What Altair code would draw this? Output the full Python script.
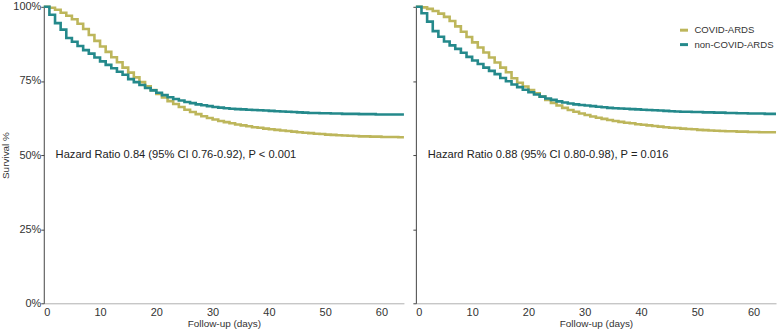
import altair as alt
import pandas as pd

# Kaplan-Meier survival (%) by follow-up day, 0..64
days = list(range(65))

groups = ["COVID-ARDS", "non-COVID-ARDS"]
colors = ["#bdb65b", "#24898b"]

left_covid = [100, 99.7, 99, 98, 97, 95.8, 94.3, 92.5, 90.5, 88.5, 86.6, 84.8, 83, 81.3,
              79.5, 77.8, 76.2, 74.6, 73.2, 71.9, 70.6, 69.4, 68.2, 67.2, 66.2, 65.3, 64.5,
              63.8, 63.1, 62.5, 62, 61.5, 61.1, 60.7, 60.3, 60, 59.7, 59.4, 59.2, 58.9, 58.7,
              58.5, 58.3, 58.1, 57.9, 57.7, 57.5, 57.4, 57.2, 57.1, 56.9, 56.8, 56.7, 56.6,
              56.5, 56.4, 56.3, 56.3, 56.2, 56.2, 56.1, 56.1, 56.1, 56.0, 56.0]
left_noncovid = [100, 97.3, 94.5, 92.3, 89.5, 88.2, 86.8, 85.4, 84.2, 82.9, 81.6, 80.4,
                 79.3, 78.1, 77.1, 75.6, 74.6, 73.6, 72.6, 71.8, 71.0, 70.2, 69.5, 68.9,
                 68.4, 67.9, 67.5, 67.1, 66.8, 66.5, 66.2, 66.0, 65.8, 65.6, 65.5, 65.4,
                 65.3, 65.2, 65.1, 65.0, 64.9, 64.8, 64.7, 64.6, 64.5, 64.4, 64.3, 64.2,
                 64.2, 64.1, 64.1, 64.0, 64.0, 63.9, 63.9, 63.9, 63.8, 63.8, 63.8, 63.7,
                 63.7, 63.7, 63.7, 63.7, 63.7]
right_covid = [100, 99.8, 99.3, 98.6, 97.7, 96.6, 95.2, 93.4, 91.6, 89.8, 88.0, 86.3,
               84.6, 82.9, 81.2, 79.5, 77.9, 75.9, 74.4, 73.1, 71.9, 70.8, 69.7, 68.6,
               67.6, 66.7, 65.9, 65.2, 64.6, 64.0, 63.5, 63.0, 62.6, 62.2, 61.8, 61.5,
               61.2, 60.9, 60.7, 60.4, 60.2, 60.0, 59.8, 59.6, 59.4, 59.2, 59.1, 58.9,
               58.8, 58.7, 58.5, 58.4, 58.3, 58.2, 58.1, 58.0, 58.0, 57.9, 57.9, 57.8,
               57.8, 57.7, 57.7, 57.7, 57.7]
right_noncovid = [100, 97.8, 95.0, 91.8, 89.9, 88.3, 87.0, 85.8, 84.5, 83.1, 81.9, 80.7,
                  79.5, 78.4, 77.3, 76.0, 74.9, 73.8, 72.9, 72.0, 71.2, 70.4, 69.7, 69.1,
                  68.6, 68.1, 67.7, 67.4, 67.1, 66.9, 66.7, 66.5, 66.3, 66.1, 65.9, 65.8,
                  65.7, 65.6, 65.5, 65.4, 65.3, 65.2, 65.1, 65.0, 64.9, 64.8, 64.7, 64.6,
                  64.6, 64.5, 64.5, 64.4, 64.4, 64.3, 64.3, 64.2, 64.2, 64.1, 64.1, 64.0,
                  64.0, 64.0, 63.9, 63.9, 63.9]

annotations = ["Hazard Ratio 0.84 (95% CI 0.76-0.92), P < 0.001",
               "Hazard Ratio 0.88 (95% CI 0.80-0.98), P = 0.016"]

y_ticks = [0, 25, 50, 75, 100]
x_ticks = [0, 10, 20, 30, 40, 50, 60]

FONT = "Liberation Sans"
TEXT = "#333333"


def curves(covid, noncovid):
    rows = []
    for g, vals in zip(groups, [covid, noncovid]):
        for d, v in zip(days, vals):
            rows.append({"day": d, "survival": v, "group": g})
    return pd.DataFrame(rows)


def panel(covid, noncovid, note, width, first, show_legend):
    df = curves(covid, noncovid)
    x = alt.X("day:Q",
              scale=alt.Scale(domain=[0, 64], nice=False),
              axis=alt.Axis(values=x_ticks, title="Follow-up (days)", ticks=False,
                            grid=False, domainColor="#b0b0b0", labelPadding=3,
                            labelFontSize=11, labelColor=TEXT, labelFont=FONT,
                            titleFont=FONT, titleFontSize=10, titleFontWeight="normal",
                            titleColor=TEXT, titlePadding=1))
    if first:
        yaxis = alt.Axis(values=y_ticks, labelExpr="datum.value + '%'", title="Survival %",
                         grid=False, tickSize=3, tickColor="#444", domainColor="#444",
                         labelPadding=0, labelFontSize=11, labelColor=TEXT, labelFont=FONT,
                         titleFont=FONT, titleFontSize=10, titleFontWeight="normal",
                         titleColor=TEXT, titlePadding=2)
    else:
        yaxis = alt.Axis(values=y_ticks, labels=False, title=None, grid=False, tickSize=3,
                         tickColor="#444", domainColor="#444")
    y = alt.Y("survival:Q", scale=alt.Scale(domain=[0, 100], nice=False), axis=yaxis)
    legend = (alt.Legend(title=None, orient="none", legendX=264, legendY=18,
                         symbolType="stroke", symbolSize=64, symbolStrokeWidth=3,
                         labelFont=FONT, labelFontSize=9.6, labelColor=TEXT,
                         rowPadding=1.5, labelOffset=5, padding=0)
              if show_legend else None)
    color = alt.Color("group:N", scale=alt.Scale(domain=groups, range=colors), legend=legend)
    lines = alt.Chart(df).mark_line(interpolate="step-after", strokeWidth=2.6).encode(
        x=x, y=y, color=color)
    label = alt.Chart(pd.DataFrame({"day": [2.1], "survival": [50], "text": [note]})).mark_text(
        align="left", baseline="middle", font=FONT, fontSize=11.2, color="#222222"
    ).encode(x="day:Q", y="survival:Q", text="text:N")
    return alt.layer(lines, label).properties(width=width, height=298)


left = panel(left_covid, left_noncovid, annotations[0], 362, True, False)
right = panel(right_covid, right_noncovid, annotations[1], 362, False, True)

chart = alt.hconcat(left, right, spacing=0).resolve_legend(color="independent").properties(
    padding={"left": 0, "top": 0, "right": 0, "bottom": 0}
).configure_view(stroke=None)

chart.save("out.html", embed_options={"renderer": "svg", "actions": False})
